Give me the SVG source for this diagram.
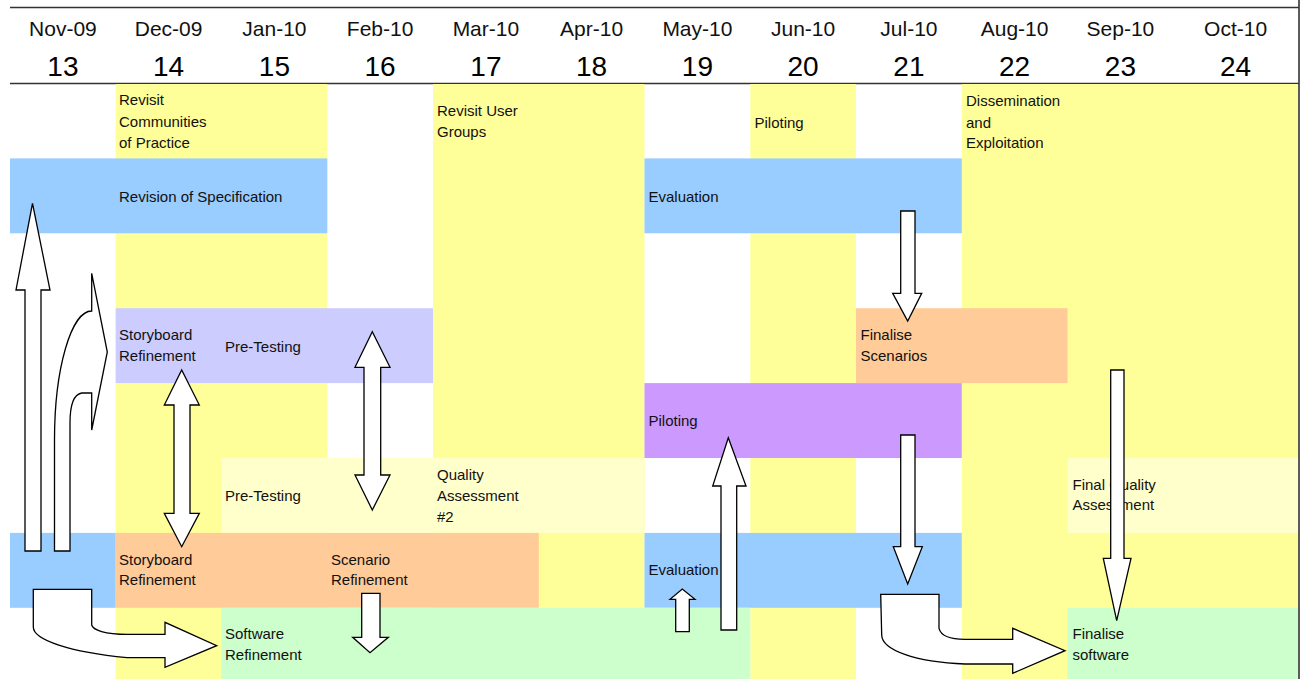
<svg xmlns="http://www.w3.org/2000/svg" width="1304" height="679" viewBox="0 0 1304 679">
  <style>
    .yellow { fill: #FFFF99; }
    .blue { fill: #99CCFF; }
    .lavender { fill: #CCCCFF; }
    .orange { fill: #FFCC99; }
    .purple { fill: #CC99FF; }
    .pale { fill: #FFFFCC; }
    .green { fill: #CCFFCC; }
    .month { font-family: "Liberation Sans", Arial, sans-serif; font-size: 21px; fill: #111; text-anchor: middle; }
    .num { font-family: "Liberation Sans", Arial, sans-serif; font-size: 28px; fill: #000; text-anchor: middle; }
    .lbl { font-family: "Liberation Sans", Arial, sans-serif; font-size: 15px; fill: #111; }
    .rule { stroke: #333; stroke-width: 1.6; fill: none; }
    .arrow { fill: #FFFFFF; stroke: #000; stroke-width: 1.3; stroke-linejoin: miter; }
  </style>

  <rect x="0" y="0" width="1304" height="679" fill="#FFFFFF"/>

  <!-- Timeline header: months and week numbers -->
  <g id="header">
    <line class="rule" x1="10" y1="7.5" x2="1299" y2="7.5"/>
    <line class="rule" x1="10" y1="83.5" x2="1299" y2="83.5"/>
    <text class="month" x="62.9" y="36">Nov-09</text>
    <text class="month" x="168.6" y="36">Dec-09</text>
    <text class="month" x="274.4" y="36">Jan-10</text>
    <text class="month" x="380.1" y="36">Feb-10</text>
    <text class="month" x="485.9" y="36">Mar-10</text>
    <text class="month" x="591.6" y="36">Apr-10</text>
    <text class="month" x="697.4" y="36">May-10</text>
    <text class="month" x="803.1" y="36">Jun-10</text>
    <text class="month" x="908.9" y="36">Jul-10</text>
    <text class="month" x="1014.6" y="36">Aug-10</text>
    <text class="month" x="1120.4" y="36">Sep-10</text>
    <text class="month" x="1235.6" y="36">Oct-10</text>
    <text class="num" x="62.9" y="76">13</text>
    <text class="num" x="168.6" y="76">14</text>
    <text class="num" x="274.4" y="76">15</text>
    <text class="num" x="380.1" y="76">16</text>
    <text class="num" x="485.9" y="76">17</text>
    <text class="num" x="591.6" y="76">18</text>
    <text class="num" x="697.4" y="76">19</text>
    <text class="num" x="803.1" y="76">20</text>
    <text class="num" x="908.9" y="76">21</text>
    <text class="num" x="1014.6" y="76">22</text>
    <text class="num" x="1120.4" y="76">23</text>
    <text class="num" x="1235.6" y="76">24</text>
  </g>

  <!-- Background activity columns -->
  <g id="revisit-communities">
    <rect class="yellow" x="115.7" y="84" width="211.6" height="595"/>
    <text class="lbl" x="119" y="105">Revisit</text>
    <text class="lbl" x="119" y="126.5">Communities</text>
    <text class="lbl" x="119" y="148">of Practice</text>
  </g>
  <g id="revisit-user-groups">
    <rect class="yellow" x="433" y="84" width="211.5" height="595"/>
    <text class="lbl" x="437" y="115.5">Revisit User</text>
    <text class="lbl" x="437" y="137">Groups</text>
  </g>
  <g id="piloting-june">
    <rect class="yellow" x="750.3" y="84" width="105.7" height="595"/>
    <text class="lbl" x="754.5" y="127.5">Piloting</text>
  </g>
  <g id="dissemination">
    <rect class="yellow" x="961.8" y="84" width="336.2" height="595"/>
    <text class="lbl" x="966" y="106">Dissemination</text>
    <text class="lbl" x="966" y="127.5">and</text>
    <text class="lbl" x="966" y="148">Exploitation</text>
  </g>

  <!-- Activity bars -->
  <g id="revision-of-specification">
    <rect class="blue" x="10" y="158.4" width="317.3" height="74.9"/>
    <text class="lbl" x="119" y="201.5">Revision of Specification</text>
  </g>
  <g id="evaluation-1">
    <rect class="blue" x="644.5" y="158.4" width="317.3" height="74.9"/>
    <text class="lbl" x="648.5" y="201.5">Evaluation</text>
  </g>
  <g id="storyboard-pretesting">
    <rect class="lavender" x="115.7" y="308.2" width="317.3" height="74.9"/>
    <text class="lbl" x="119" y="340">Storyboard</text>
    <text class="lbl" x="119" y="361">Refinement</text>
    <text class="lbl" x="225" y="351.5">Pre-Testing</text>
  </g>
  <g id="finalise-scenarios">
    <rect class="orange" x="856" y="308.2" width="211.5" height="74.9"/>
    <text class="lbl" x="860.5" y="339.5">Finalise</text>
    <text class="lbl" x="860.5" y="360.5">Scenarios</text>
  </g>
  <g id="piloting">
    <rect class="purple" x="644.5" y="383.1" width="317.3" height="74.9"/>
    <text class="lbl" x="648.5" y="426">Piloting</text>
  </g>
  <g id="pretesting-quality">
    <rect class="pale" x="221.5" y="458" width="423" height="74.9"/>
    <text class="lbl" x="225" y="500.5">Pre-Testing</text>
    <text class="lbl" x="437" y="480">Quality</text>
    <text class="lbl" x="437" y="500.5">Assessment</text>
    <text class="lbl" x="437" y="521.5">#2</text>
  </g>
  <g id="final-quality">
    <rect class="pale" x="1067.5" y="458" width="230.5" height="74.9"/>
    <text class="lbl" x="1072.5" y="489.5">Final Quality</text>
    <text class="lbl" x="1072.5" y="510">Assessment</text>
  </g>
  <g id="specification-base">
    <rect class="blue" x="10" y="532.9" width="105.7" height="74.9"/>
  </g>
  <g id="storyboard-scenario">
    <rect class="orange" x="115.7" y="532.9" width="423.1" height="74.9"/>
    <text class="lbl" x="119" y="564.5">Storyboard</text>
    <text class="lbl" x="119" y="585">Refinement</text>
    <text class="lbl" x="331" y="564.5">Scenario</text>
    <text class="lbl" x="331" y="585">Refinement</text>
  </g>
  <g id="evaluation-2">
    <rect class="blue" x="644.5" y="532.9" width="317.3" height="74.9"/>
    <text class="lbl" x="648.5" y="575">Evaluation</text>
  </g>
  <g id="software-refinement">
    <rect class="green" x="221.5" y="607.8" width="528.8" height="71.2"/>
    <text class="lbl" x="225" y="639">Software</text>
    <text class="lbl" x="225" y="659.5">Refinement</text>
  </g>
  <g id="finalise-software">
    <rect class="green" x="1067.5" y="607.8" width="230.5" height="71.2"/>
    <text class="lbl" x="1072.5" y="639">Finalise</text>
    <text class="lbl" x="1072.5" y="659.5">software</text>
  </g>

  <!-- Right frame edge -->
  <line class="rule" x1="1299" y1="0" x2="1299" y2="679"/>

  <!-- Block arrows linking the activities -->
  <g id="connectors">
    <path class="arrow" d="M25,551 L25,290 L16,290 L32.5,203.3 L50,290 L41,290 L41,551 Z"/>
    <path class="arrow" d="M54.5,551 L54.5,440 A37.2,129 0 0 1 91.7,311 L91.7,273.3 L107.3,352 L91.7,430 L91.7,393 L81.7,393 Q70,395 70,423 L70,551 Z"/>
    <path class="arrow" d="M33.3,589.3 L91.7,589.3 L91.7,625 C93,630 105,634.3 127,634.3 L165,634.3 L165,622.3 L216.7,645.7 L165,667.3 L165,657.7 L127,657.7 C70,652 33.3,640 33.3,627 Z"/>
    <path class="arrow" d="M174,405 L164.3,405 L181.7,370 L199.3,405 L190,405 L190,513.3 L199.3,513.3 L181.7,546.7 L164.3,513.3 L174,513.3 Z"/>
    <path class="arrow" d="M364,367.3 L355,367.3 L372.3,331.7 L390,367.3 L380.7,367.3 L380.7,475 L390,475 L372.3,510 L355,475 L364,475 Z"/>
    <path class="arrow" d="M361.7,593.3 L380,593.3 L380,637.3 L388.3,637.3 L370,652.7 L352.7,637.3 L361.7,637.3 Z"/>
    <path class="arrow" d="M675.7,631.7 L675.7,599.3 L670,599.3 L682.3,589 L695,599.3 L689.3,599.3 L689.3,631.7 Z"/>
    <path class="arrow" d="M721,630 L721,486 L712.7,486 L728.3,437.7 L746,486 L736.7,486 L736.7,630 Z"/>
    <path class="arrow" d="M900.7,211 L915,211 L915,293.3 L921.7,293.3 L907.7,321 L892.7,293.3 L900.7,293.3 Z"/>
    <path class="arrow" d="M900.7,435 L915,435 L915,546.7 L922.3,546.7 L907.7,584 L893.3,546.7 L900.7,546.7 Z"/>
    <path class="arrow" d="M880.7,594.3 L939,594.3 L939,628.3 C941,636 950,639.3 965,639.3 L1012.7,639.3 L1012.7,628.3 L1065,650.7 L1012.7,673.3 L1012.7,664 L965,664 C915,662 882,650 881.7,635 Z"/>
    <path class="arrow" d="M1110.7,370 L1124,370 L1124,558.3 L1131,558.3 L1116.7,620.7 L1103.3,558.3 L1110.7,558.3 Z"/>
  </g>
</svg>
